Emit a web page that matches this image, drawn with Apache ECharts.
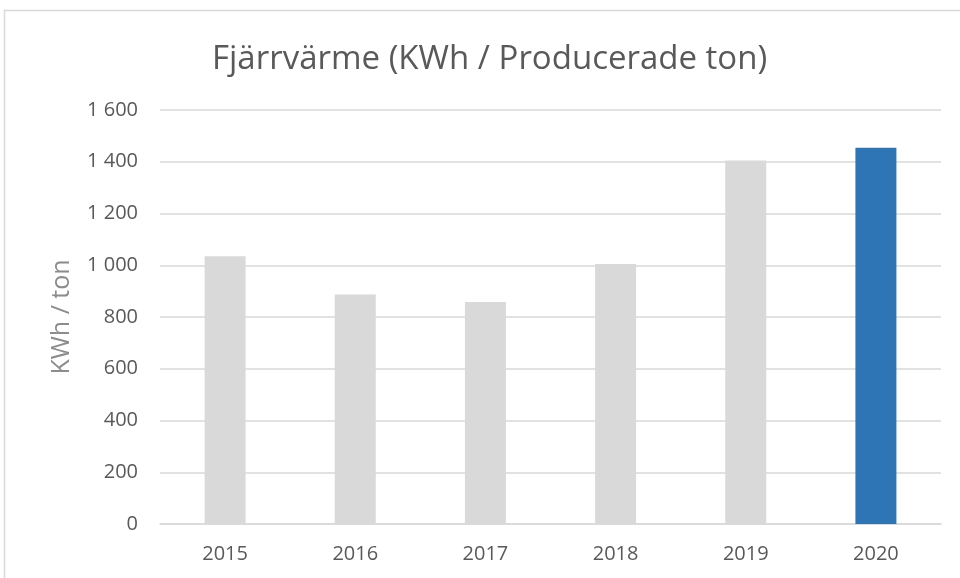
<!DOCTYPE html>
<html><head><meta charset="utf-8">
<script src="https://cdn.jsdelivr.net/npm/echarts@6/dist/echarts.min.js"></script>
<style>html,body{margin:0;padding:0;background:#fff}#c{width:960px;height:578px}</style>
</head><body><div id="c"></div>
<script>
const categories = ['2015','2016','2017','2018','2019','2020'];
const values = [1035, 887, 858, 1005, 1405, 1454];
const highlightIndex = 5;
const yTicks = [0, 200, 400, 600, 800, 1000, 1200, 1400, 1600];

const chart = echarts.init(document.getElementById('c'));
const fmt = v => String(v).replace(/\B(?=(\d{3})+(?!\d))/g, ' ');
chart.setOption({
  animation: false,
  backgroundColor: '#fff',
  graphic: [{type:'rect', shape:{x:4.5,y:10.5,width:1000,height:700}, style:{fill:'none', stroke:'#d9d9d9', lineWidth:1.5}, z:-1}],
  title: {text:'Fjärrvärme (KWh / Producerade ton)', left: 207, top: 38,
    textStyle:{fontFamily:'Open Sans', fontWeight:'normal', fontSize:33, color:'#595959'}},
  grid: {left:160, right:19, top:110, bottom:54},
  xAxis: {type:'category', data: categories,
    axisLine:{lineStyle:{color:'#d9d9d9', width:1.5}}, axisTick:{show:false},
    axisLabel:{color:'#595959', fontSize:20, fontFamily:'Open Sans', margin:20}},
  yAxis: {type:'value', min:yTicks[0], max:yTicks[yTicks.length-1], interval:200,
    name:'KWh / ton', nameLocation:'middle', nameGap:86, nameRotate:90,
    nameTextStyle:{color:'#8c8c8c', fontSize:25, fontFamily:'Open Sans'},
    axisLabel:{color:'#595959', fontSize:20, fontFamily:'Open Sans', margin:22, formatter: fmt},
    splitLine:{lineStyle:{color:'#d9d9d9', width:1.5}}, axisLine:{show:false}, axisTick:{show:false}},
  series: [{type:'bar', barWidth:'31.5%',
    data: values.map((v,i)=>({value:v, itemStyle:{color: i===highlightIndex ? '#2e75b6' : '#d9d9d9'}}))}]
});
</script></body></html>
